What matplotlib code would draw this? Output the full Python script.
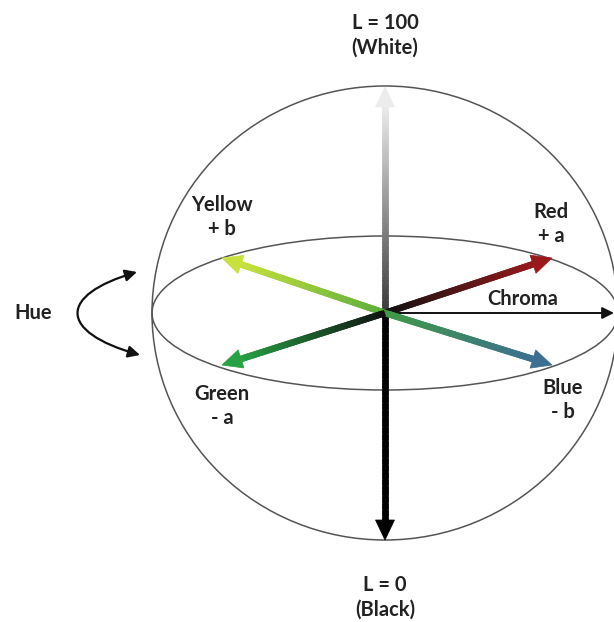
import numpy as np
import matplotlib
matplotlib.use("Agg")
import matplotlib.pyplot as plt
from matplotlib.collections import LineCollection
from matplotlib.patches import Ellipse, Polygon, FancyArrowPatch
from matplotlib.path import Path
from matplotlib.colors import to_rgb

# centre of the sphere and the ends of the colour axes (pixel space)
center = (385, 313)
sphere_r = (233, 227)
equator_r = (233, 77)

arrow_names = ["White", "Black", "Red", "Blue", "Yellow", "Green"]
arrow_tips = [(385, 87), (385, 540), (552, 258), (552, 365), (222, 258), (222, 365)]
arrow_start_col = ["#3a3a3a", "#000000", "#111111", "#3f9a45", "#5aae3c", "#111111"]
arrow_end_col = ["#ececec", "#000000", "#9a1a1c", "#3c6f92", "#c9e13c", "#26a244"]

labels = ["L = 100\n(White)", "L = 0\n(Black)", "Yellow\n+ b", "Red\n+ a",
          "Green\n- a", "Blue\n- b", "Chroma", "Hue"]
label_xy = [(385, 35), (385, 597), (222, 217), (551, 224),
            (222, 406), (563, 400), (523, 299), (33, 313)]

fig = plt.figure(figsize=(6.14, 6.22), dpi=100)
ax = fig.add_axes([0, 0, 1, 1])
ax.set_xlim(0, 614)
ax.set_ylim(622, 0)
ax.axis("off")

ax.add_patch(Ellipse(center, 2 * sphere_r[0], 2 * sphere_r[1], fill=False,
                     ec="#555555", lw=1.1))
ax.add_patch(Ellipse(center, 2 * equator_r[0], 2 * equator_r[1], fill=False,
                     ec="#555555", lw=1.1))


def grad_arrow(tip, c0, c1, shaft=6.5, head_w=19, head_l=20):
    x0, y0 = center
    x1, y1 = tip
    d = np.hypot(x1 - x0, y1 - y0)
    ux, uy = (x1 - x0) / d, (y1 - y0) / d
    bx, by = x1 - ux * head_l, y1 - uy * head_l
    n = 60
    t = np.linspace(0, 1, n + 1)
    xs = x0 + (bx - x0) * t
    ys = y0 + (by - y0) * t
    # segments overlap a little so no seams show
    segs = [[(xs[i], ys[i]), (xs[i + 1] + ux * 3, ys[i + 1] + uy * 3)] for i in range(n)]
    a, b = np.array(to_rgb(c0)), np.array(to_rgb(c1))
    cols = [a + (b - a) * (i / n) for i in range(n)]
    ax.add_collection(LineCollection(segs, colors=cols, linewidths=shaft * 72 / 100,
                                     capstyle="butt", zorder=3))
    px, py = -uy, ux
    head = [(x1, y1), (bx + px * head_w / 2, by + py * head_w / 2),
            (bx - px * head_w / 2, by - py * head_w / 2)]
    ax.add_patch(Polygon(head, closed=True, fc=c1, ec=c1, lw=0.5, zorder=4))


# chroma axis
ax.add_patch(FancyArrowPatch(center, (614, 313), arrowstyle="-|>,head_length=7,head_width=3.5",
                             color="#111111", lw=1.4, shrinkA=0, shrinkB=0, zorder=2))

for tip, c0, c1 in zip(arrow_tips, arrow_start_col, arrow_end_col):
    grad_arrow(tip, c0, c1)

# hue arrow
hue_path = Path([(137, 272), (58, 295), (58, 332), (140, 355)],
                [Path.MOVETO, Path.CURVE4, Path.CURVE4, Path.CURVE4])
ax.add_patch(FancyArrowPatch(path=hue_path, arrowstyle="<|-|>,head_length=7,head_width=3.5",
                             color="#111111", lw=1.6, zorder=3))

for txt, (x, y) in zip(labels, label_xy):
    ax.text(x, y, txt, ha="center", va="center", fontsize=14.5, family="Lato",
            weight="bold", color="#222222", linespacing=1.3)

fig.savefig("out.png", dpi=100)
